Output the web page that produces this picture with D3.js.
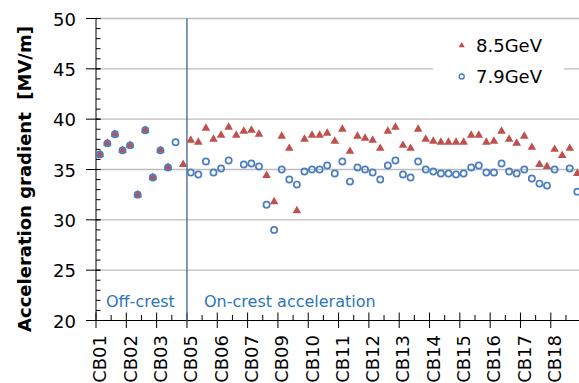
<!DOCTYPE html>
<html>
<head>
<meta charset="utf-8">
<script src="https://cdn.jsdelivr.net/npm/d3@7"></script>
<style>
  body { margin: 0; background: #fff; }
  text { font-family: "DejaVu Sans", sans-serif; }
</style>
</head>
<body>
<div id="chart-area"></div>
<script>
// 8.5 GeV and 7.9 GeV gradients per cavity (null = no measurement)
const gev85 = [
  36.5, 37.6, 38.5, 36.9, 37.4, 32.5, 38.9, 34.2, 36.9, 35.2, null, 35.5,
  37.9, 37.7, 39.1, 38.0, 38.4, 39.2, 38.4, 38.8, 38.9, 38.5, 34.4, 31.8,
  38.3, 37.1, 30.9, 38.0, 38.4, 38.4, 38.6, 37.8, 39.0, 36.8, 38.3, 38.1,
  37.9, 37.1, 38.8, 39.2, 37.4, 37.1, 39.0, 38.0, 37.8, 37.7, 37.7, 37.7,
  37.7, 38.4, 38.4, 37.7, 37.8, 38.8, 38.0, 37.6, 38.3, 37.2, 35.5, 35.3,
  37.0, 36.4, 37.1, 34.6
];
const gev79 = [
  36.5, 37.6, 38.5, 36.9, 37.4, 32.5, 38.9, 34.2, 36.9, 35.2, 37.7, null,
  34.7, 34.5, 35.8, 34.7, 35.1, 35.9, null, 35.5, 35.6, 35.3, 31.5, 29.0,
  35.0, 34.0, 33.5, 34.8, 35.0, 35.0, 35.4, 34.6, 35.8, 33.8, 35.2, 35.0,
  34.7, 34.0, 35.4, 35.9, 34.5, 34.2, 35.8, 35.0, 34.8, 34.6, 34.6, 34.5,
  34.6, 35.2, 35.4, 34.7, 34.7, 35.6, 34.8, 34.6, 35.0, 34.1, 33.6, 33.4,
  35.0, null, 35.1, 32.8
];
// one label every 4 cavities
const tickLabels = ['CB01', 'CB02', 'CB03', 'CB05', 'CB06', 'CB07', 'CB09', 'CB10',
  'CB11', 'CB12', 'CB13', 'CB14', 'CB15', 'CB16', 'CB17', 'CB18'];
const yTicks = [20, 25, 30, 35, 40, 45, 50];
const offCrestCount = 12;

const width = 579, height = 383;
const margin = { left: 96, top: 18.5, bottom: 320.5 };
const step = 7.58;

const red = '#C0504D', blue = '#4A7EC0', textBlue = '#2E75B6';

const svg = d3.select('#chart-area')
  .append('svg')
  .attr('width', width)
  .attr('height', height);

const x = d3.scaleBand()
  .domain(d3.range(gev85.length))
  .range([margin.left, margin.left + gev85.length * step]);

const y = d3.scaleLinear()
  .domain([20, 50])
  .range([margin.bottom, margin.top]);

const cx = (i) => x(i) + x.bandwidth() / 2;
const xRight = x.range()[1];

// grid lines
svg.append('g')
  .selectAll('line')
  .data(yTicks.filter((d) => d > 20))
  .join('line')
  .attr('x1', margin.left)
  .attr('x2', xRight)
  .attr('y1', (d) => y(d))
  .attr('y2', (d) => y(d))
  .attr('stroke', '#BDBDBD')
  .attr('stroke-width', 1.3);

// Y axis
const yAxis = svg.append('g');
yAxis.append('line')
  .attr('x1', margin.left).attr('x2', margin.left)
  .attr('y1', margin.top).attr('y2', margin.bottom)
  .attr('stroke', '#000');
yAxis.selectAll('.minor')
  .data(d3.range(20, 51, 1))
  .join('line')
  .attr('class', 'minor')
  .attr('x1', margin.left).attr('x2', margin.left + 4.5)
  .attr('y1', (d) => y(d)).attr('y2', (d) => y(d))
  .attr('stroke', '#000');
yAxis.selectAll('.major')
  .data(yTicks)
  .join('line')
  .attr('class', 'major')
  .attr('x1', margin.left - 10).attr('x2', margin.left + 4.5)
  .attr('y1', (d) => y(d)).attr('y2', (d) => y(d))
  .attr('stroke', '#000');
yAxis.selectAll('text')
  .data(yTicks)
  .join('text')
  .attr('x', 76)
  .attr('y', (d) => y(d) + 7)
  .attr('text-anchor', 'end')
  .attr('font-size', '18px')
  .text((d) => d);

// Y label
svg.append('text')
  .attr('transform', `translate(31, 179) rotate(-90)`)
  .attr('text-anchor', 'middle')
  .attr('font-size', '18px')
  .attr('font-weight', 'bold')
  .style('white-space', 'pre')
  .text('Acceleration gradient  [MV/m]');

// X axis
const xAxis = svg.append('g');
xAxis.append('line')
  .attr('x1', margin.left).attr('x2', xRight)
  .attr('y1', margin.bottom).attr('y2', margin.bottom)
  .attr('stroke', '#000');
const boundaries = d3.range(0, gev85.length + 1, 2);
xAxis.selectAll('.tick')
  .data(boundaries)
  .join('line')
  .attr('class', 'tick')
  .attr('x1', (d) => margin.left + d * x.step())
  .attr('x2', (d) => margin.left + d * x.step())
  .attr('y1', (d) => d % 4 === 0 ? 312.5 : 315)
  .attr('y2', (d) => d % 4 === 0 ? 328 : margin.bottom)
  .attr('stroke', '#000');
xAxis.selectAll('text')
  .data(tickLabels)
  .join('text')
  .attr('transform', (d, i) => `translate(${cx(i * 4)}, 335) rotate(-90)`)
  .attr('text-anchor', 'end')
  .attr('dy', '0.36em')
  .attr('font-size', '18px')
  .text((d) => d);

// off-crest / on-crest divider
const divX = margin.left + offCrestCount * x.step();
svg.append('line')
  .attr('x1', divX).attr('x2', divX)
  .attr('y1', margin.top).attr('y2', margin.bottom)
  .attr('stroke', '#3F5F8C')
  .attr('stroke-width', 1.3);

svg.append('text')
  .attr('x', 106)
  .attr('y', 306.5)
  .attr('font-size', '16px')
  .attr('fill', textBlue)
  .text('Off-crest');
svg.append('text')
  .attr('x', 204)
  .attr('y', 306.5)
  .attr('font-size', '16px')
  .attr('fill', textBlue)
  .text('On-crest acceleration');

// legend box (hides grid line behind it)
const legend = svg.append('g');
legend.append('rect')
  .attr('x', 433).attr('y', 30)
  .attr('width', 131).attr('height', 64)
  .attr('fill', '#fff');

const tri = d3.symbol().type(d3.symbolTriangle);

// 8.5 GeV triangles
svg.append('g')
  .selectAll('path')
  .data(gev85.map((v, i) => ({ i, v })).filter((d) => d.v !== null))
  .join('path')
  .attr('d', tri.size(32)())
  .attr('transform', (d) => `translate(${cx(d.i)}, ${y(d.v)})`)
  .attr('fill', red);

// 7.9 GeV open circles
svg.append('g')
  .selectAll('circle')
  .data(gev79.map((v, i) => ({ i, v })).filter((d) => d.v !== null))
  .join('circle')
  .attr('cx', (d) => cx(d.i))
  .attr('cy', (d) => y(d.v))
  .attr('r', 3.1)
  .attr('fill', 'none')
  .attr('stroke', blue)
  .attr('stroke-width', 1.7);

legend.append('path')
  .attr('d', d3.symbol().type(d3.symbolTriangle).size(17)())
  .attr('transform', 'translate(461.7, 45.5)')
  .attr('fill', red);
legend.append('text')
  .attr('x', 476).attr('y', 51.5)
  .attr('font-size', '18px')
  .text('8.5GeV');
legend.append('circle')
  .attr('cx', 461.7).attr('cy', 76.5)
  .attr('r', 2.5)
  .attr('fill', 'none')
  .attr('stroke', blue)
  .attr('stroke-width', 1.4);
legend.append('text')
  .attr('x', 476).attr('y', 83)
  .attr('font-size', '18px')
  .text('7.9GeV');
</script>
</body>
</html>
